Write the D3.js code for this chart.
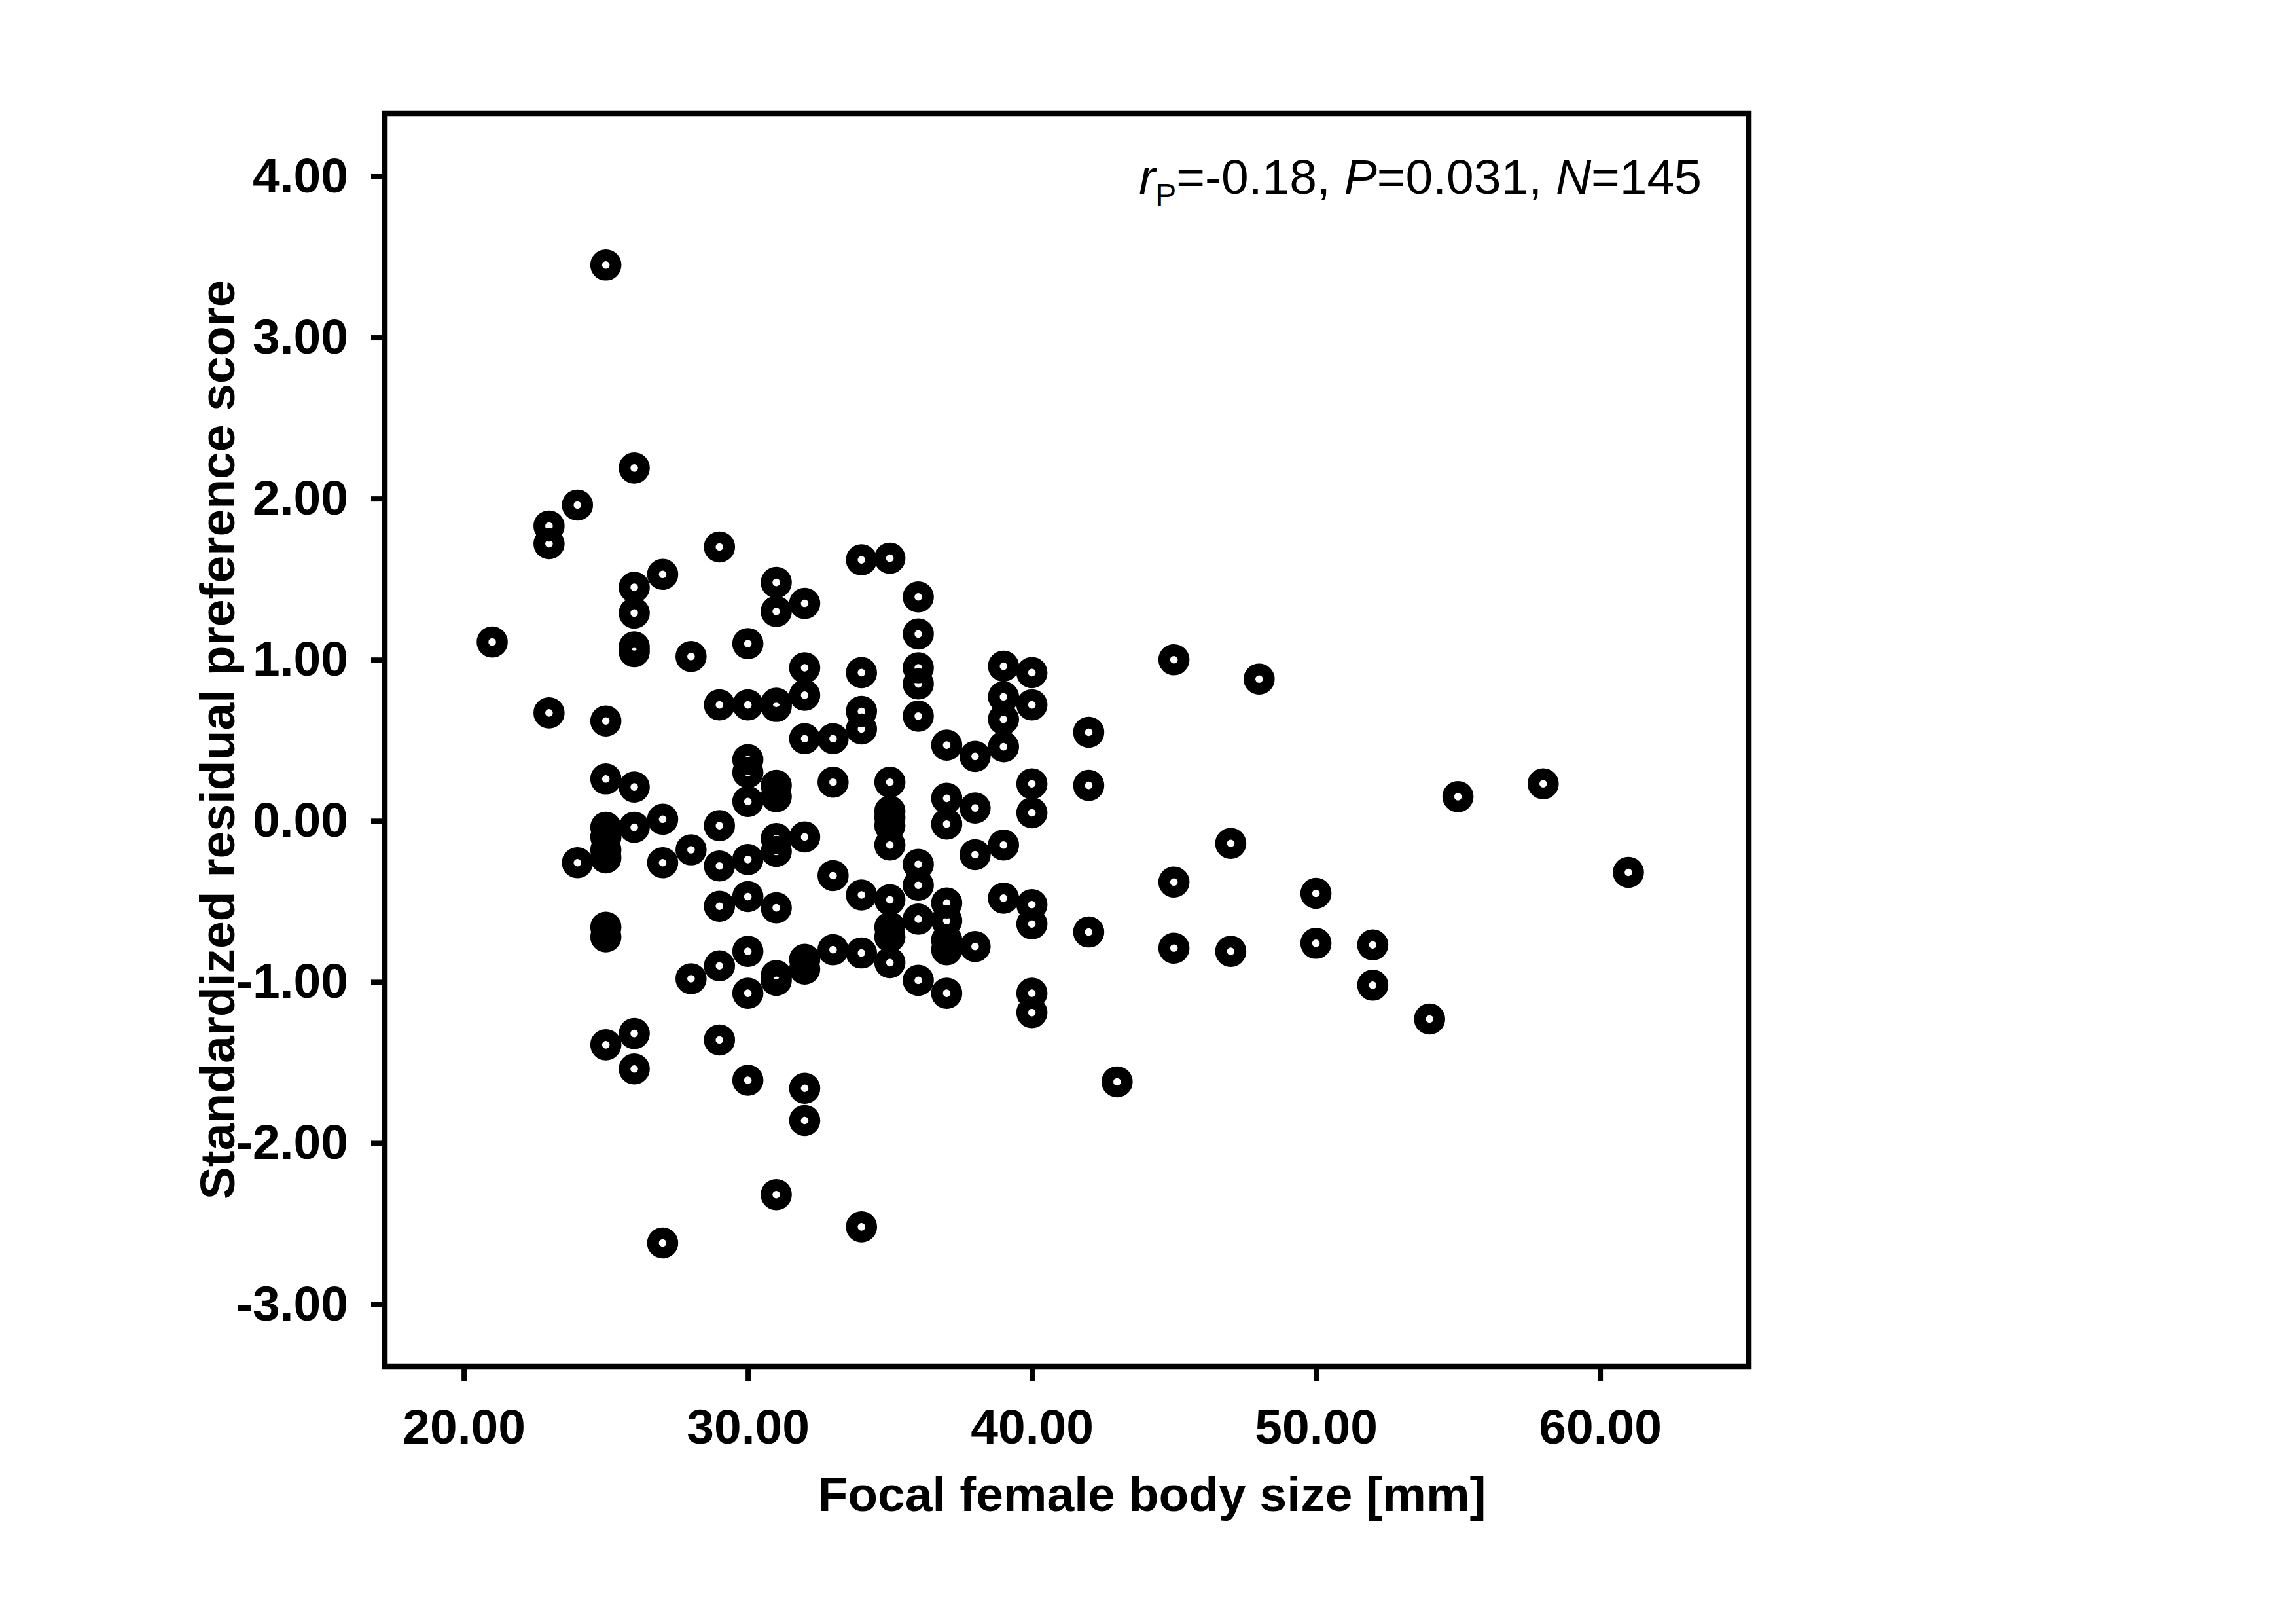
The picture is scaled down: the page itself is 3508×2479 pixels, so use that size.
<!DOCTYPE html>
<html>
<head>
<meta charset="utf-8">
<script src="https://cdn.jsdelivr.net/npm/d3@7"></script>
<style>
  body { margin: 0; background: #fff; }
  text { font-family: "Liberation Sans", Arial, Helvetica, sans-serif; }
</style>
</head>
<body>
<div id="scatter"></div>
<script>
var svgWidth = 3508;
var svgHeight = 2479;

var margin = {
  top: 173,
  right: 836,
  bottom: 392,
  left: 588
};

var width = svgWidth - margin.left - margin.right;
var height = svgHeight - margin.top - margin.bottom;

// focal female body size (mm), one entry per female
var bodySize = [
  21,
  23, 23, 23,
  24, 24,
  25, 25, 25, 25, 25, 25, 25, 25, 25, 25,
  26, 26, 26, 26, 26, 26, 26, 26, 26,
  27, 27, 27, 27,
  28, 28, 28,
  29, 29, 29, 29, 29, 29, 29,
  30, 30, 30, 30, 30, 30, 30, 30, 30, 30,
  31, 31, 31, 31, 31, 31, 31, 31, 31, 31, 31, 31,
  32, 32, 32, 32, 32, 32, 32, 32, 32,
  33, 33, 33, 33,
  34, 34, 34, 34, 34, 34, 34,
  35, 35, 35, 35, 35, 35, 35, 35, 35, 35,
  36, 36, 36, 36, 36, 36, 36, 36, 36,
  37, 37, 37, 37, 37, 37, 37, 37,
  38, 38, 38, 38,
  39, 39, 39, 39, 39, 39,
  40, 40, 40, 40, 40, 40, 40, 40,
  42, 42, 42,
  43,
  45, 45, 45,
  47, 47,
  48,
  50, 50,
  52, 52,
  54,
  55,
  58,
  61
];

// standardized residual preference score, same order as bodySize
var prefScore = [
  1.11,
  1.83, 1.72, 0.67,
  1.96, -0.26,
  3.45, 0.62, 0.26, -0.04, -0.10, -0.18, -0.23, -0.66, -0.72, -1.39,
  2.19, 1.45, 1.29, 1.08, 1.05, 0.21, -0.04, -1.32, -1.54,
  1.53, 0.01, -0.26, -2.62,
  1.02, -0.18, -0.98,
  1.70, 0.72, -0.03, -0.28, -0.53, -0.90, -1.36,
  1.10, 0.72, 0.38, 0.30, 0.12, -0.24, -0.47, -0.81, -1.07, -1.61,
  1.48, 1.30, 0.73, 0.71, 0.22, 0.15, -0.11, -0.19, -0.54, -0.96, -0.99, -2.32,
  1.35, 0.95, 0.78, 0.51, -0.10, -0.86, -0.92, -1.66, -1.86,
  0.51, 0.24, -0.34, -0.80,
  1.62, 0.92, 0.68, 0.57, -0.46, -0.82, -2.52,
  1.63, 0.24, 0.06, 0.02, -0.03, -0.15, -0.49, -0.66, -0.72, -0.88,
  1.39, 1.16, 0.95, 0.85, 0.65, -0.27, -0.40, -0.61, -0.99,
  0.47, 0.14, -0.02, -0.51, -0.62, -0.74, -0.80, -1.07,
  0.40, 0.08, -0.21, -0.78,
  0.96, 0.77, 0.63, 0.46, -0.15, -0.48,
  0.92, 0.72, 0.23, 0.05, -0.52, -0.64, -1.07, -1.19,
  0.55, 0.22, -0.69,
  -1.62,
  1.00, -0.38, -0.79,
  -0.14, -0.81,
  0.88,
  -0.45, -0.76,
  -0.77, -1.02,
  -1.23,
  0.15,
  0.23,
  -0.32
];

var xTicks = [20, 30, 40, 50, 60];
var yTicks = [-3, -2, -1, 0, 1, 2, 3, 4];

var xLabel = "Focal female body size [mm]";
var yLabel = "Standardized residual preference score";

var points = bodySize.map(function(d, i) {
  return { size: d, score: prefScore[i] };
});

var svg = d3
  .select("#scatter")
  .append("svg")
  .attr("width", svgWidth)
  .attr("height", svgHeight);

var chartGroup = svg.append("g")
  .attr("transform", `translate(${margin.left}, ${margin.top})`);

// scales
var xLinearScale = d3.scaleLinear()
  .domain([17.22, 65.24])
  .range([0, width]);

var yLinearScale = d3.scaleLinear()
  .domain([-3.386, 4.392])
  .range([height, 0]);

// plain hyphen for negatives, like the original
var fmt = d => d.toFixed(2);

var bottomAxis = d3.axisBottom(xLinearScale)
  .tickValues(xTicks)
  .tickFormat(fmt)
  .tickSizeInner(23)
  .tickSizeOuter(0)
  .tickPadding(42);

var leftAxis = d3.axisLeft(yLinearScale)
  .tickValues(yTicks)
  .tickFormat(fmt)
  .tickSizeInner(21)
  .tickSizeOuter(0)
  .tickPadding(35);

// append x axis
var xAxis = chartGroup.append("g")
  .attr("transform", `translate(0, ${height})`)
  .call(bottomAxis);

// append y axis
var yAxis = chartGroup.append("g")
  .call(leftAxis);

[xAxis, yAxis].forEach(function(ax) {
  ax.select(".domain").remove();
  ax.selectAll(".tick line")
    .attr("stroke", "#000")
    .attr("stroke-width", 8);
  ax.selectAll(".tick text")
    .attr("fill", "#000")
    .style("font-size", "75px")
    .style("font-weight", "bold");
});

// plot frame
chartGroup.append("rect")
  .attr("x", 0)
  .attr("y", 0)
  .attr("width", width)
  .attr("height", height)
  .attr("fill", "none")
  .attr("stroke", "#000")
  .attr("stroke-width", 8.5);

// rings
chartGroup.selectAll("circle.pt")
  .data(points)
  .enter()
  .append("circle")
  .attr("class", "pt")
  .attr("cx", d => xLinearScale(d.size))
  .attr("cy", d => yLinearScale(d.score))
  .attr("r", 14.8)
  .attr("fill", "none")
  .attr("stroke", "#000")
  .attr("stroke-width", 18);

// axis titles
svg.append("text")
  .attr("x", 1760)
  .attr("y", 2308)
  .attr("text-anchor", "middle")
  .style("font-size", "75px")
  .style("font-weight", "bold")
  .text(xLabel);

svg.append("text")
  .attr("transform", `translate(358, ${margin.top + height / 2}) rotate(-90)`)
  .attr("text-anchor", "middle")
  .style("font-size", "75px")
  .style("font-weight", "bold")
  .text(yLabel);

// correlation note
var note = svg.append("text")
  .attr("x", 2600)
  .attr("y", 296)
  .attr("text-anchor", "end")
  .style("font-size", "75px");

note.append("tspan").style("font-style", "italic").text("r");
note.append("tspan").attr("dy", 18).style("font-size", "48px").text("P");
note.append("tspan").attr("dy", -18).text("=-0.18, ");
note.append("tspan").style("font-style", "italic").text("P");
note.append("tspan").text("=0.031, ");
note.append("tspan").style("font-style", "italic").text("N");
note.append("tspan").text("=145");
</script>
</body>
</html>
